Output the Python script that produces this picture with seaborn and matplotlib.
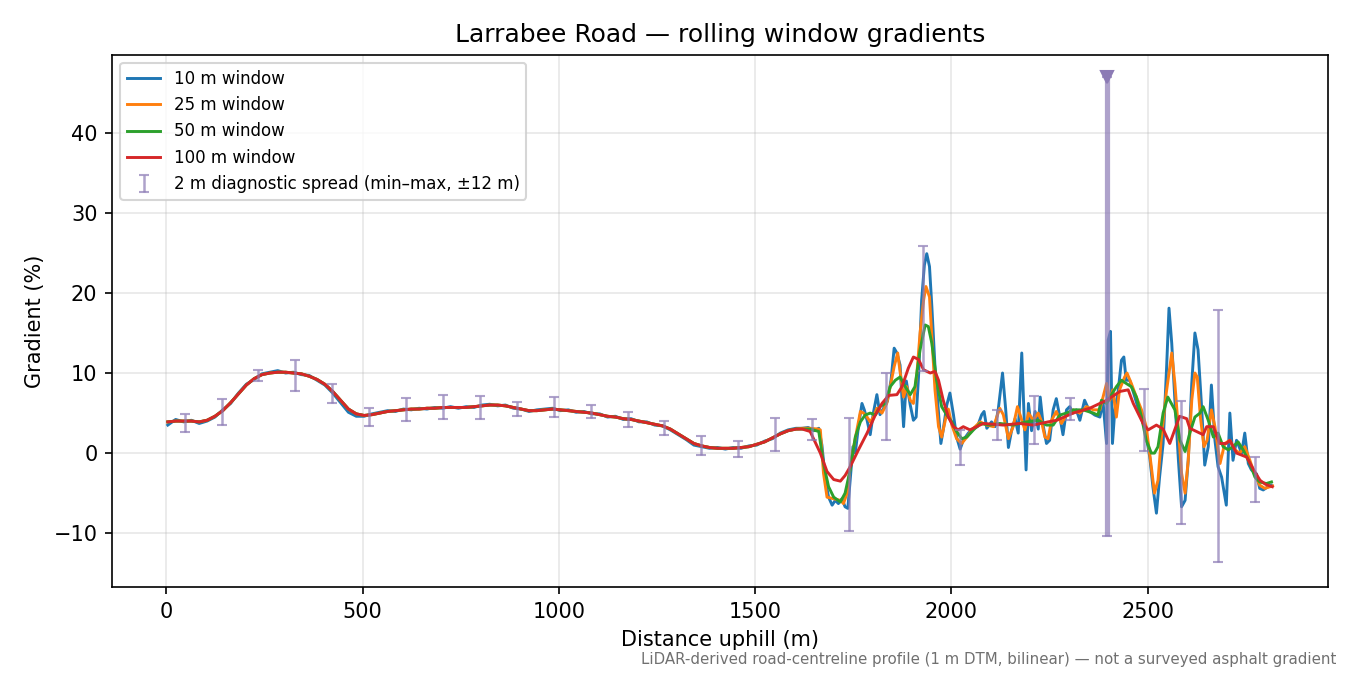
import numpy as np
import pandas as pd
import matplotlib
matplotlib.use("Agg")
import matplotlib.pyplot as plt
import seaborn as sns

# smooth lower part of the road (0-1600 m), 20 m spacing
dist_smooth = np.arange(4, 1605, 20)
grad_smooth = [3.9, 4.0, 4.0, 4.0, 3.9, 4.1, 4.6, 5.3, 6.3, 7.4,
               8.5, 9.3, 9.8, 10.0, 10.1, 10.1, 10.0, 9.9, 9.6, 9.2,
               8.6, 7.7, 6.6, 5.5, 4.9, 4.7, 4.8, 5.0, 5.2, 5.3,
               5.4, 5.5, 5.5, 5.6, 5.6, 5.7, 5.7, 5.7, 5.7, 5.8,
               5.9, 6.0, 6.0, 5.9, 5.7, 5.5, 5.3, 5.3, 5.4, 5.5,
               5.4, 5.3, 5.2, 5.1, 5.0, 4.8, 4.6, 4.5, 4.3, 4.2,
               4.0, 3.8, 3.6, 3.4, 3.0, 2.4, 1.8, 1.2, 0.9, 0.7,
               0.6, 0.6, 0.6, 0.7, 0.8, 1.1, 1.4, 1.9, 2.4, 2.8, 3.0]
grad_smooth_10 = [3.5, 4.2, 3.9, 4.1, 3.7, 4.0, 4.5, 5.4, 6.2, 7.5,
                  8.6, 9.2, 9.9, 10.1, 10.3, 10.0, 10.1, 9.8, 9.7, 9.1,
                  8.5, 7.5, 6.3, 5.1, 4.6, 4.6, 4.9, 5.1, 5.3, 5.2,
                  5.5, 5.4, 5.6, 5.5, 5.7, 5.6, 5.8, 5.6, 5.8, 5.7,
                  6.0, 6.1, 5.9, 6.0, 5.6, 5.5, 5.2, 5.4, 5.5, 5.6,
                  5.3, 5.4, 5.1, 5.2, 4.9, 4.9, 4.5, 4.6, 4.2, 4.3,
                  3.9, 3.9, 3.5, 3.4, 2.9, 2.3, 1.7, 1.0, 0.8, 0.6,
                  0.7, 0.5, 0.7, 0.6, 0.9, 1.0, 1.5, 1.8, 2.5, 2.9, 3.1]

# noisy upper part
dist_10 = [1620, 1635, 1650, 1662, 1670, 1679, 1687, 1696, 1704, 1712, 1721, 1729, 1736, 1742, 1749,
           1755, 1763, 1772, 1778, 1785, 1793, 1801, 1810, 1818, 1827, 1837, 1846, 1854, 1861, 1869,
           1878, 1885, 1895, 1903, 1910, 1916, 1924, 1931, 1937, 1944, 1950, 1958, 1967, 1973, 1979,
           1988, 1996, 2005, 2013, 2022, 2030, 2043, 2056, 2066, 2077, 2083, 2090, 2102, 2111, 2119,
           2130, 2138, 2145, 2153, 2162, 2170, 2179, 2184, 2190, 2196, 2204, 2213, 2221, 2226, 2234,
           2242, 2250, 2259, 2267, 2276, 2284, 2293, 2301, 2310, 2318, 2327, 2339, 2352, 2365, 2378,
           2386, 2395, 2399, 2405, 2410, 2416, 2424, 2433, 2439, 2445, 2454, 2467, 2479, 2492, 2505,
           2513, 2522, 2530, 2539, 2548, 2554, 2561, 2569, 2578, 2586, 2595, 2603, 2612, 2620, 2628,
           2637, 2645, 2654, 2662, 2671, 2679, 2688, 2700, 2709, 2717, 2726, 2739, 2747, 2756, 2764,
           2777, 2785, 2794, 2806, 2815]
grad_10 = [3.1, 3.2, 2.8, 3.1, 1.0, -3.4, -5.5, -6.5, -5.9, -6.3, -5.7, -6.7, -6.9, -3.4, 0.8,
           0.0, 3.3, 6.2, 5.4, 4.1, 2.3, 5.0, 7.3, 4.8, 5.6, 6.5, 9.1, 13.1, 12.5, 11.0,
           3.3, 9.0, 6.0, 4.1, 4.5, 9.5, 19.1, 23.5, 24.9, 23.3, 18.3, 10.8, 5.0, 1.2, 2.9,
           6.0, 7.5, 4.8, 2.0, 0.5, 1.6, 2.5, 3.1, 3.3, 4.8, 5.2, 3.1, 3.9, 3.3, 5.4,
           10.0, 5.5, 0.7, 2.8, 4.3, 2.5, 12.5, 5.8, -2.1, 6.2, 2.8, 5.2, 3.0, 7.0, 3.3,
           1.2, 1.6, 5.4, 6.8, 4.5, 2.3, 5.4, 5.8, 5.0, 5.4, 4.1, 6.6, 5.2, 4.75, 4.5,
           6.4, 1.2, 14.1, 15.2, 1.2, 5.4, 7.5, 11.6, 12.0, 9.1, 9.1, 7.0, 5.0, 3.3, -0.5,
           -4.2, -7.5, -3.0, 1.2, 10.8, 18.1, 13.7, 6.6, -0.9, -6.7, -5.9, -0.9, 8.7, 15.0, 12.9,
           5.8, -1.5, 0.8, 8.5, 1.6, -1.7, -3.0, -6.5, 5.0, -0.9, 1.6, 0.0, 2.5, -1.3, -2.1,
           -2.6, -4.4, -4.6, -4.2, -4.0]

dist_25 = [1620, 1640, 1660, 1666, 1674, 1683, 1700, 1717, 1725, 1734, 1742, 1751, 1759, 1768, 1776,
           1785, 1793, 1801, 1810, 1823, 1835, 1844, 1854, 1863, 1869, 1878, 1886, 1895, 1903, 1912,
           1920, 1929, 1935, 1944, 1950, 1958, 1967, 1975, 1986, 1992, 2001, 2013, 2026, 2039, 2056,
           2073, 2090, 2107, 2123, 2132, 2145, 2157, 2168, 2179, 2187, 2196, 2208, 2221, 2229, 2238,
           2246, 2255, 2267, 2280, 2293, 2310, 2327, 2344, 2361, 2378, 2386, 2395, 2403, 2411, 2420,
           2428, 2441, 2447, 2458, 2471, 2484, 2496, 2509, 2517, 2526, 2534, 2547, 2561, 2569, 2578,
           2586, 2595, 2603, 2612, 2620, 2626, 2634, 2643, 2651, 2662, 2671, 2684, 2696, 2709, 2722,
           2734, 2747, 2760, 2773, 2785, 2798, 2811, 2818]
grad_25 = [3.1, 3.1, 3.0, 2.9, -2.5, -5.5, -5.7, -5.9, -6.3, -5.0, -1.7, 0.8, 2.9, 5.2, 5.0,
           4.5, 3.9, 4.5, 5.6, 5.0, 6.2, 8.3, 10.8, 12.5, 10.2, 7.0, 8.3, 6.6, 6.2, 10.0,
           15.0, 19.1, 20.8, 19.5, 14.5, 7.9, 3.3, 2.0, 4.5, 5.5, 3.5, 1.8, 1.2, 2.0, 3.1,
           3.9, 3.5, 3.3, 5.6, 4.8, 1.8, 3.3, 5.8, 4.1, 2.9, 5.0, 4.1, 5.0, 4.0, 2.0,
           1.8, 4.1, 5.2, 3.7, 4.75, 5.4, 5.0, 5.8, 5.4, 5.4, 7.0, 8.7, 6.6, 7.9, 4.5,
           7.9, 9.5, 10.0, 8.7, 7.0, 5.4, 3.3, -1.7, -5.0, -3.4, 1.6, 7.5, 12.5, 8.7, 2.9,
           -2.5, -5.0, -0.9, 6.6, 10.0, 9.5, 4.5, 0.8, 1.6, 5.4, 3.3, -1.3, 1.2, 1.6, 0.4,
           0.0, 0.8, -0.9, -2.75, -4.0, -4.4, -4.2, -4.1]

dist_50 = [1620, 1640, 1662, 1674, 1687, 1700, 1717, 1729, 1742, 1755, 1768, 1780, 1793, 1806, 1818,
           1831, 1844, 1857, 1869, 1882, 1895, 1907, 1920, 1933, 1941, 1950, 1962, 1975, 1988, 2001,
           2013, 2026, 2039, 2056, 2073, 2098, 2123, 2157, 2191, 2221, 2242, 2259, 2276, 2293, 2310,
           2335, 2361, 2373, 2382, 2395, 2407, 2420, 2433, 2445, 2458, 2471, 2484, 2496, 2509, 2517,
           2526, 2539, 2551, 2569, 2582, 2595, 2607, 2620, 2633, 2641, 2654, 2667, 2679, 2692, 2705,
           2717, 2730, 2743, 2760, 2773, 2785, 2802, 2815]
grad_50 = [3.0, 3.0, 2.7, -1.3, -4.2, -5.5, -6.1, -5.0, -2.1, 2.0, 3.9, 4.75, 5.0, 4.75, 5.8,
           6.2, 8.3, 9.1, 9.5, 8.3, 7.3, 8.3, 12.9, 16.0, 15.8, 13.7, 9.1, 5.8, 4.75, 3.9,
           2.7, 1.8, 2.0, 2.9, 3.7, 3.5, 3.7, 3.5, 3.9, 4.1, 3.5, 3.5, 4.75, 5.0, 5.4,
           5.4, 5.0, 4.75, 6.6, 6.2, 7.25, 8.3, 9.1, 8.7, 8.3, 7.0, 4.5, 1.6, 0.0, 0.0,
           0.8, 5.0, 7.0, 5.4, 1.6, 0.2, 2.5, 4.5, 5.0, 5.8, 4.1, 2.0, 2.5, 0.8, 0.4,
           0.8, 1.4, 0.4, -1.3, -3.0, -3.6, -3.8, -3.6]

dist_100 = [1620, 1640, 1666, 1683, 1700, 1717, 1729, 1742, 1763, 1785, 1806, 1823, 1840, 1861, 1874,
            1890, 1903, 1916, 1929, 1946, 1958, 1967, 1979, 1992, 2005, 2017, 2030, 2047, 2064, 2081,
            2132, 2174, 2208, 2246, 2268, 2310, 2352, 2395, 2429, 2450, 2463, 2488, 2501, 2522, 2539,
            2556, 2581, 2599, 2607, 2641, 2650, 2667, 2683, 2700, 2709, 2726, 2752, 2772, 2786, 2800,
            2817]
grad_100 = [3.0, 2.7, 0.0, -2.3, -3.3, -3.5, -2.8, -1.7, 0.4, 2.5, 4.75, 6.2, 7.2, 7.3, 8.3,
            10.6, 12.0, 11.7, 10.4, 10.0, 10.2, 9.1, 6.6, 4.5, 3.3, 2.9, 3.3, 2.9, 3.3, 3.7,
            3.5, 3.7, 3.5, 3.9, 4.1, 5.0, 5.6, 6.6, 7.7, 7.9, 6.2, 3.7, 2.9, 3.5, 3.0,
            1.2, 4.6, 4.3, 3.1, 2.3, 3.3, 3.3, 1.2, 1.2, 1.6, 0.0, -0.5, -2.3, -3.4, -3.9,
            -4.2]

# 2 m diagnostic spread (min/max within +-12 m)
spread_dist = [47, 141, 235, 329, 423, 517, 611, 705, 799, 893, 987, 1081, 1175, 1269, 1363,
               1457, 1551, 1645, 1739, 1833, 1927, 2021, 2115, 2209, 2303, 2397, 2491, 2585, 2679, 2773]
spread_min = [2.6, 3.5, 9.0, 7.8, 6.3, 3.4, 4.0, 4.2, 4.3, 4.6, 4.5, 4.4, 3.3, 2.2, -0.2,
              -0.5, 0.3, 1.6, -9.7, 1.6, 10.3, -1.5, 1.6, 1.1, 4.1, -10.3, 0.25, -8.8, -13.6, -6.1]
spread_max = [4.9, 6.8, 10.4, 11.6, 8.6, 5.6, 6.9, 7.25, 7.1, 6.4, 7.0, 6.0, 5.1, 4.0, 2.1,
              1.5, 4.4, 4.2, 4.4, 10.0, 25.9, 2.9, 5.4, 7.1, 6.9, 47.0, 8.0, 6.5, 17.9, -0.5]

windows = ["10 m window", "25 m window", "50 m window", "100 m window"]

frames = []
for name, d, g, base in [
    (windows[0], dist_10, grad_10, grad_smooth_10),
    (windows[1], dist_25, grad_25, grad_smooth),
    (windows[2], dist_50, grad_50, grad_smooth),
    (windows[3], dist_100, grad_100, grad_smooth),
]:
    frames.append(pd.DataFrame({
        "distance": np.concatenate([dist_smooth, d]),
        "gradient": np.concatenate([base, g]),
        "window": name,
    }))
df = pd.concat(frames, ignore_index=True)

fig, ax = plt.subplots(figsize=(9, 4.5), dpi=150)
fig.subplots_adjust(left=0.083, right=0.984, top=0.919, bottom=0.130)

palette = ["#1f77b4", "#ff7f0e", "#2ca02c", "#d62728"]
sns.lineplot(data=df, x="distance", y="gradient", hue="window", hue_order=windows,
             palette=palette, estimator=None, linewidth=1.4, ax=ax)

s_min = np.array(spread_min)
s_max = np.array(spread_max)
s_mid = (s_min + s_max) / 2
big = s_max > 30
ax.errorbar(np.array(spread_dist)[~big], s_mid[~big], yerr=((s_max - s_min) / 2)[~big],
            fmt="none", ecolor="#8c7bb5", elinewidth=1.2, capsize=2.5, alpha=0.7,
            label="2 m diagnostic spread (min\u2013max, \u00b112 m)")
ax.errorbar(np.array(spread_dist)[big], s_mid[big], yerr=((s_max - s_min) / 2)[big],
            fmt="none", ecolor="#8c7bb5", elinewidth=2.5, capsize=2.5, alpha=0.7)
ax.plot(np.array(spread_dist)[big], s_max[big], marker="v", color="#8c7bb5",
        markersize=6, linestyle="none")

ax.set_xlim(-138, 2960)
ax.set_ylim(-16.75, 49.75)
ax.grid(True, alpha=0.3)
ax.set_title("Larrabee Road \u2014 rolling window gradients", fontsize=12)
ax.set_xlabel("Distance uphill (m)")
ax.set_ylabel("Gradient (%)")
ax.legend(loc="upper left", fontsize=8)

fig.text(0.99, 0.012, "LiDAR-derived road-centreline profile (1 m DTM, bilinear) \u2014 not a surveyed asphalt gradient",
         ha="right", va="bottom", fontsize=7.2, color="#707070")

fig.savefig("out.png", dpi=150)
